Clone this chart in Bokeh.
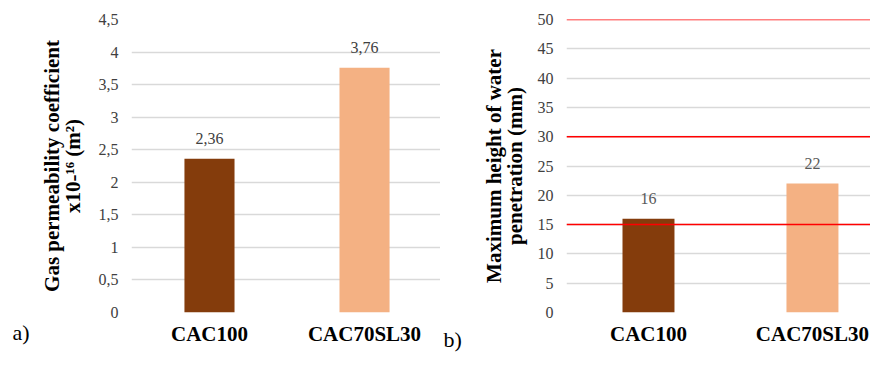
from bokeh.plotting import figure
from bokeh.layouts import row
from bokeh.models import Range1d, FixedTicker, Span, Label, ColumnDataSource
from bokeh.embed import file_html
from bokeh.resources import INLINE

categories = ["CAC100", "CAC70SL30"]
gas_perm = [2.36, 3.76]
gas_labels = ["2,36", "3,76"]
water_pen = [16, 22]
water_labels = ["16", "22"]
colors = ["#843C0C", "#F4B183"]
gas_ticks = [0, 0.5, 1, 1.5, 2, 2.5, 3, 3.5, 4, 4.5]
gas_tick_labels = ["0", "0,5", "1", "1,5", "2", "2,5", "3", "3,5", "4", "4,5"]
water_ticks = [0, 5, 10, 15, 20, 25, 30, 35, 40, 45, 50]
water_limits = [50, 30, 15]

FONT = "Liberation Serif, Times New Roman, serif"


def make_panel(width, x_start, x_end, y_max, ticks, tick_labels, values, vlabels,
               bar_w, ylabel, tag, border_left, border_top, border_bottom, x_standoff,
               label_color, tag_x, tag_y, ylab_standoff):
    p = figure(width=width, height=354, output_backend="svg", toolbar_location=None,
               x_range=Range1d(x_start, x_end), y_range=Range1d(0, y_max),
               min_border_left=border_left, min_border_right=0, min_border_top=border_top,
               min_border_bottom=border_bottom)
    p.outline_line_color = None
    xs = list(range(len(categories)))
    src = ColumnDataSource(dict(x=xs, top=values, color=colors, lab=vlabels))
    p.vbar(x="x", top="top", width=bar_w, color="color", source=src, line_color=None)
    p.text(x="x", y="top", text="lab", source=src, text_align="center",
           text_baseline="middle", y_offset=-20, text_font_size="16px",
           text_color=label_color, text_font={"value": FONT})
    # axes
    for ax in (p.xaxis[0], p.yaxis[0]):
        ax.axis_line_color = None
        ax.major_tick_line_color = None
        ax.minor_tick_line_color = None
        ax.major_tick_out = 0
        ax.major_tick_in = 0
        ax.minor_tick_out = 0
        ax.minor_tick_in = 0

    p.xaxis.ticker = FixedTicker(ticks=xs)
    p.xaxis.major_label_overrides = {i: c for i, c in enumerate(categories)}
    p.xaxis.major_label_text_font = FONT
    p.xaxis.major_label_text_font_style = "bold"
    p.xaxis.major_label_text_font_size = "21px"
    p.xaxis.major_label_text_color = "black"
    p.xaxis.major_label_text_line_height = 0.6
    p.xaxis.major_label_standoff = x_standoff

    p.yaxis.ticker = FixedTicker(ticks=ticks)
    p.yaxis.major_label_overrides = {t: l for t, l in zip(ticks, tick_labels)}
    p.yaxis.major_label_text_font = FONT
    p.yaxis.major_label_text_font_size = "16px"
    p.yaxis.major_label_text_color = "#404040"
    p.yaxis.major_label_standoff = 13
    p.yaxis.axis_label = ylabel
    p.yaxis.axis_label_text_font = FONT
    p.yaxis.axis_label_text_font_style = "bold"
    p.yaxis.axis_label_text_font_size = "21px"
    p.yaxis.axis_label_text_color = "black"
    p.yaxis.axis_label_text_line_height = 0.85
    p.yaxis.axis_label_standoff = ylab_standoff

    p.xgrid.grid_line_color = None
    p.ygrid.ticker = FixedTicker(ticks=ticks)
    p.ygrid.grid_line_color = "#D9D9D9"
    p.ygrid.grid_line_width = 1.5

    p.add_layout(Label(x=tag_x, y=tag_y, x_units="data", y_units="screen", text=tag,
                       text_font=FONT, text_font_size="22px", text_color="black",
                       text_baseline="middle", text_align="left"), "left")
    return p


p1 = make_panel(440, -0.503, 1.490, 4.5, gas_ticks, gas_tick_labels, gas_perm, gas_labels,
                0.323, "Gas permeability coefficient\nx10-\u00b9\u2076 (m\u00b2)", "a)",
                131, 19, 20, 9, "#404040", -1.271, -20, 11)
water_tick_labels = [str(t) for t in water_ticks]
p2 = make_panel(430, -0.5, 1.354, 50, water_ticks, water_tick_labels, water_pen, water_labels,
                0.317, "Maximum height of water\npenetration (mm)", "b)",
                126, 19, 42, 9, "#595959", -1.250, -27, 8)
for lim in water_limits:
    p2.add_layout(Span(location=lim, dimension="width", line_color="#FF0000", line_width=1.5))

layout = row(p1, p2)
open("out.html", "w").write(file_html(layout, INLINE))
